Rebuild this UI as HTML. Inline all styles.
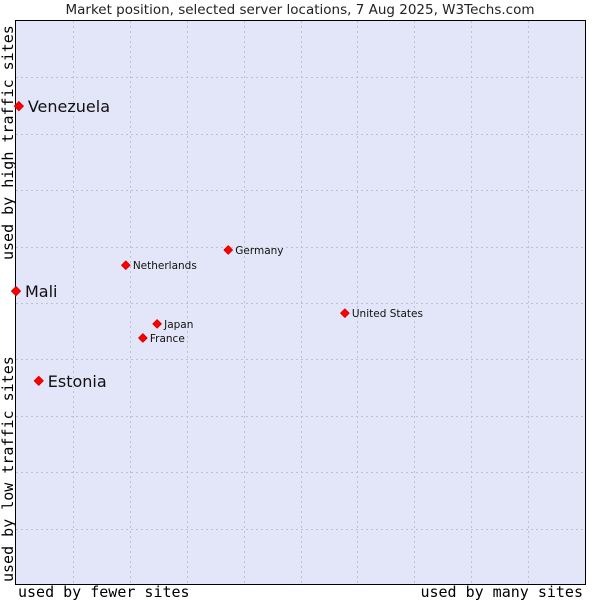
<!DOCTYPE html>
<html><head><meta charset="utf-8"><style>
body{margin:0;background:#fff;}
svg{display:block;}
</style></head><body>
<svg id="chart" width="600" height="600" xmlns="http://www.w3.org/2000/svg">
<rect x="0" y="0" width="600" height="600" fill="#fff"/>
<text x="300" y="14" text-anchor="middle" font-family="DejaVu Sans, sans-serif" font-size="13.5" fill="#222">Market position, selected server locations, 7 Aug 2025, W3Techs.com</text>
<rect x="15.5" y="20.5" width="570" height="564" fill="#e3e5f8" stroke="#000" stroke-width="1"/>
<g id="grid" stroke="#c0c0c8" stroke-dasharray="2,3" stroke-width="1"></g>
<g id="points"></g>
<text x="18" y="597" font-family="DejaVu Sans Mono, monospace" font-size="15" fill="#000">used by fewer sites</text>
<text x="583" y="597" text-anchor="end" font-family="DejaVu Sans Mono, monospace" font-size="15" fill="#000">used by many sites</text>
<text transform="translate(13,582) rotate(-90)" font-family="DejaVu Sans Mono, monospace" font-size="15" fill="#000">used by low traffic sites</text>
<text transform="translate(13,260) rotate(-90)" font-family="DejaVu Sans Mono, monospace" font-size="15" fill="#000">used by high traffic sites</text>
</svg>
<script>
const countries = ["Venezuela","Mali","Estonia","Netherlands","Germany","Japan","France","United States"];
const xValues = [0.5, 0, 4, 19.3, 37.3, 24.8, 22.3, 57.8];
const yValues = [84.9, 52.1, 36.2, 56.7, 59.4, 46.3, 43.8, 48.2];
const bigLabel = [true, true, true, false, false, false, false, false];
const gridTicks = [10,20,30,40,50,60,70,80,90];

const X0=16, X1=585, Y0=585, Y1=21;
function sx(v){return X0+(X1-X0)*v/100;}
function sy(v){return Y0-(Y0-Y1)*v/100;}
const NS="http://www.w3.org/2000/svg";
const grid=document.getElementById('grid');
gridTicks.forEach(t=>{
  const v=document.createElementNS(NS,'line');
  v.setAttribute('x1',Math.round(sx(t))+0.5);v.setAttribute('x2',Math.round(sx(t))+0.5);
  v.setAttribute('y1',Y1);v.setAttribute('y2',Y0);
  
  
  grid.appendChild(v);
  const h=document.createElementNS(NS,'line');
  h.setAttribute('y1',Math.round(sy(t))+0.5);h.setAttribute('y2',Math.round(sy(t))+0.5);
  h.setAttribute('x1',X0);h.setAttribute('x2',X1);
  
  
  grid.appendChild(h);
});
const pts=document.getElementById('points');
countries.forEach((c,i)=>{
  const x=sx(xValues[i]), y=sy(yValues[i]);
  const r=bigLabel[i]?4.5:4.2;
  const m=document.createElementNS(NS,'polygon');
  m.setAttribute('points',`${x},${y-r} ${x+r},${y} ${x},${y+r} ${x-r},${y}`);
  m.setAttribute('fill','#ff0000');m.setAttribute('stroke','#d00');m.setAttribute('stroke-width','1');m.setAttribute('stroke-linejoin','round');
  
  
  pts.appendChild(m);
  const t=document.createElementNS(NS,'text');
  t.setAttribute('x',x+(bigLabel[i]?9:7));t.setAttribute('y',y+(bigLabel[i]?6:4));
  t.setAttribute('font-family','DejaVu Sans, sans-serif');
  t.setAttribute('font-size',bigLabel[i]?'16':'10.5');
  t.setAttribute('fill','#111');
  t.textContent=c;
  
  
  pts.appendChild(t);
});
</script>
</body></html>
